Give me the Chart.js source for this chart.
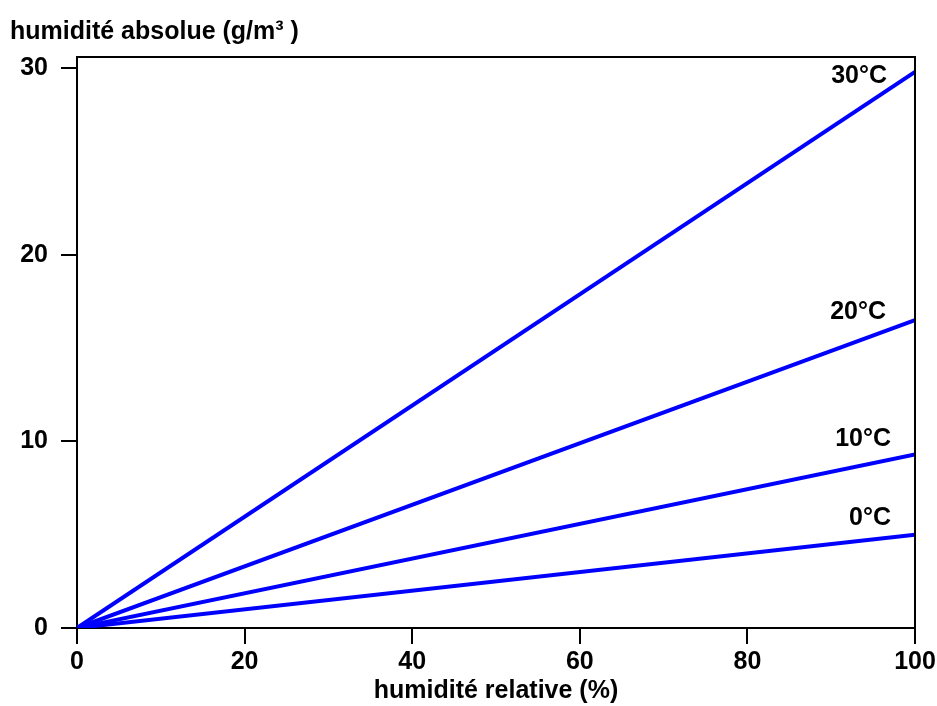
<!DOCTYPE html>
<html>
<head>
<meta charset="utf-8">
<script src="https://cdn.jsdelivr.net/npm/chart.js@4/dist/chart.umd.min.js"></script>
<style>
    html, body { margin: 0; padding: 0; background: #fff; }
    #wrap { width: 937px; height: 706px; }
</style>
</head>
<body>
<div id="wrap"><canvas id="humGraph"></canvas></div>
<script>
// humidité relative (%) on x, humidité absolue (g/m3) on y
const relHumidity = [0, 100];
const hum0C = [0, 5.0];
const hum10C = [0, 9.3];
const hum20C = [0, 16.5];
const hum30C = [0, 29.8];
const tempLabels = ['0°C', '10°C', '20°C', '30°C'];
const xTicks = [0, 20, 40, 60, 80, 100];
const yTicks = [0, 10, 20, 30];

// where each temperature label sits relative to the end of its line (px)
const labelGapRight = [24, 24, 29, 28];
const labelShiftY = [-17, -15, -8, 4];

const FONT = '"Liberation Sans", Arial, Helvetica, sans-serif';
const SIZE = 25;

function toPoints(ys) {
    return relHumidity.map((x, i) => ({ x: x, y: ys[i] }));
}

const frameAndLabels = {
    id: 'frameAndLabels',
    afterDatasetsDraw(chart) {
        const ctx = chart.ctx;
        const a = chart.chartArea;
        ctx.save();
        ctx.strokeStyle = '#000';
        ctx.lineWidth = 2;
        ctx.beginPath();
        ctx.moveTo(a.left, a.top);
        ctx.lineTo(a.right, a.top);
        ctx.lineTo(a.right, a.bottom);
        ctx.stroke();

        ctx.fillStyle = '#000';
        ctx.font = 'bold ' + SIZE + 'px ' + FONT;
        ctx.textAlign = 'right';
        ctx.textBaseline = 'middle';
        chart.data.datasets.forEach((ds, i) => {
            const end = chart.getDatasetMeta(i).data[1];
            ctx.fillText(ds.label, end.x - labelGapRight[i], end.y + labelShiftY[i]);
        });
        ctx.restore();
    },
};

const lineStyle = {
    borderColor: '#0000ff',
    borderWidth: 4,
    pointRadius: 0,
    showLine: true,
    fill: false,
};

const humGraph = new Chart('humGraph', {
    type: 'scatter',
    data: {
        datasets: [hum0C, hum10C, hum20C, hum30C].map((ys, i) => ({
            label: tempLabels[i],
            data: toPoints(ys),
            ...lineStyle,
        })),
    },
    options: {
        responsive: true,
        maintainAspectRatio: false,
        animation: false,
        layout: { padding: { left: 10, right: 22, top: 0, bottom: 0 } },
        plugins: {
            legend: { display: false },
            tooltip: { enabled: false },
            title: {
                display: true,
                text: 'humidité absolue (g/m³ )',
                align: 'start',
                color: '#000',
                font: { family: FONT, size: SIZE, weight: 'bold' },
                padding: { top: 17, bottom: 10 },
            },
        },
        scales: {
            x: {
                type: 'linear',
                min: 0,
                max: 100,
                afterBuildTicks: (s) => { s.ticks = xTicks.map((v) => ({ value: v })); },
                afterFit: (s) => {
                    s.height = 78;
                    s.paddingRight = 0;
                    s.paddingLeft = 0;
                },
                grid: {
                    drawOnChartArea: false,
                    drawTicks: true,
                    tickLength: 16,
                    color: '#000',
                    lineWidth: 2,
                },
                border: { display: true, color: '#000', width: 2 },
                ticks: {
                    color: '#000',
                    padding: 3,
                    maxRotation: 0,
                    font: { family: FONT, size: SIZE, weight: 'bold' },
                },
                title: {
                    display: true,
                    text: 'humidité relative (%)',
                    color: '#000',
                    font: { family: FONT, size: SIZE, weight: 'bold' },
                    padding: { top: 0, bottom: 0 },
                },
            },
            y: {
                type: 'linear',
                min: 0,
                max: 30.6,
                afterBuildTicks: (s) => { s.ticks = yTicks.map((v) => ({ value: v })); },
                afterFit: (s) => { s.width = 67; },
                grid: {
                    drawOnChartArea: false,
                    drawTicks: true,
                    tickLength: 16,
                    color: '#000',
                    lineWidth: 2,
                },
                border: { display: true, color: '#000', width: 2 },
                ticks: {
                    color: '#000',
                    padding: 13,
                    font: { family: FONT, size: SIZE, weight: 'bold' },
                },
            },
        },
    },
    plugins: [frameAndLabels],
});
</script>
</body>
</html>
